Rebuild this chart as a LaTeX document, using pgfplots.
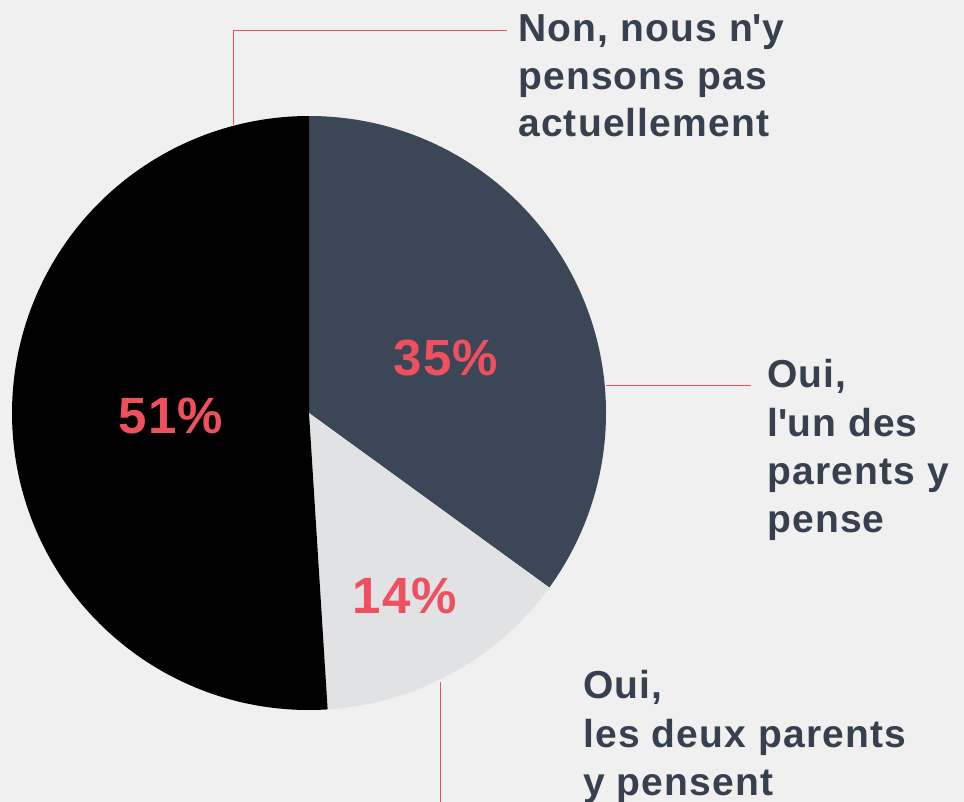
\documentclass[border=0pt]{standalone}
\usepackage{pgfplots}
\pgfplotsset{compat=1.18}
\usepackage{fontspec}
\setmainfont{Liberation Sans}[LetterSpace=3]
\newfontfamily\pctfont{Liberation Sans}[LetterSpace=2]
\usepackage{xcolor}
\definecolor{bg}{HTML}{F0F0F0}
\definecolor{slate}{HTML}{3B4657}
\definecolor{lightgrey}{HTML}{E1E2E4}
\definecolor{txt}{HTML}{37404F}
\definecolor{accent}{HTML}{EF5060}

% shares, clockwise from the top
\def\vA{35}
\def\vB{14}
\def\vC{51}

\begin{document}
\begin{tikzpicture}
\begin{axis}[
  x=1pt, y=1pt,
  xmin=0, xmax=964, ymin=0, ymax=802,
  y dir=reverse,
  scale only axis,
  hide axis,
  clip=false,
]
  \fill[bg] (axis cs:0,0) rectangle (axis cs:964,802);

  \pgfmathsetmacro{\aA}{90-3.6*\vA}
  \pgfmathsetmacro{\aB}{\aA-3.6*\vB}
  \pgfmathsetmacro{\aC}{\aB-3.6*\vC}
  \fill[slate] (axis cs:309,413) -- ++(90:297pt) arc[start angle=90, end angle=\aA, radius=297pt] -- cycle;
  \fill[lightgrey] (axis cs:309,413) -- ++(\aA:297pt) arc[start angle=\aA, end angle=\aB, radius=297pt] -- cycle;
  \fill[black] (axis cs:309,413) -- ++(\aB:297pt) arc[start angle=\aB, end angle=\aC, radius=297pt] -- cycle;

  % leader lines
  \draw[accent, line width=1pt] (axis cs:233,125) -- (axis cs:233,31) -- (axis cs:507,31);
  \draw[accent, line width=1pt] (axis cs:606,385) -- (axis cs:751,385);
  \draw[accent, line width=1pt] (axis cs:440,682) -- (axis cs:440,802);

  % percentages
  \begin{scope}[every node/.style={font=\pctfont\fontsize{51}{51}\selectfont\bfseries, text=accent, inner sep=0pt}]
    \node[anchor=base] at (axis cs:446,375) {\vA\%};
    \node[anchor=base] at (axis cs:405,613) {\vB\%};
    \node[anchor=base] at (axis cs:171,433) {\vC\%};
  \end{scope}

  % category labels
  \begin{scope}[every node/.style={font=\fontsize{39}{48}\selectfont\bfseries, text=txt, inner sep=0pt, anchor=base west}]
    \node at (axis cs:518,42) {Non, nous n\textquotesingle y};
    \node at (axis cs:518,90) {pensons pas};
    \node at (axis cs:518,137) {actuellement};
    \node at (axis cs:767,387) {Oui,};
    \node at (axis cs:767,436) {l\textquotesingle un des};
    \node at (axis cs:767,484) {parents y};
    \node at (axis cs:767,532) {pense};
    \node at (axis cs:583,698) {Oui,};
    \node at (axis cs:583,747) {les deux parents};
    \node at (axis cs:583,795) {y pensent};
  \end{scope}
\end{axis}
\pgfresetboundingbox
\path (current axis.south west) rectangle (current axis.north east);
\end{tikzpicture}
\end{document}
